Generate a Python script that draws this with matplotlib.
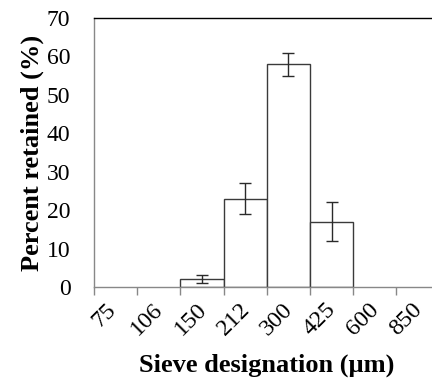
import matplotlib
matplotlib.use("Agg")
import matplotlib.pyplot as plt
import matplotlib.transforms as mtransforms
import numpy as np

sieves = ['75', '106', '150', '212', '300', '425', '600', '850']
retained = [0, 0, 2, 23, 58, 17, 0]      # percent retained in each interval (lower sieve -> next)
errors = [0, 0, 1, 4, 3, 5, 0]

plt.rcParams['font.family'] = ['Liberation Serif', 'DejaVu Serif']

fig = plt.figure(figsize=(4.32, 3.83), dpi=100)
ax = fig.add_axes([94/432, 96/383, 340/432, 269/383])

vals = np.array(retained, dtype=float)
errs = np.array(errors, dtype=float)
pos = np.arange(len(vals))
m = vals > 0
ax.bar(pos[m], vals[m], width=1.0, align='edge', color='white',
       edgecolor='#3a3a3a', linewidth=1.0, zorder=2)
ax.errorbar(pos[m] + 0.5, vals[m], yerr=errs[m], fmt='none', ecolor='#2a2a2a',
            elinewidth=1.0, capsize=4.5, capthick=1.0, zorder=3)

ax.set_xlim(0, 7.87)
ax.set_ylim(0, 70)
ax.set_yticks(np.arange(0, 71, 10))
ax.set_xticks(np.arange(len(sieves)))
ax.set_xticklabels([])
offset = mtransforms.ScaledTranslation(10/100, -12/100, fig.dpi_scale_trans)
trans = ax.get_xaxis_transform() + offset
for i, s in enumerate(sieves):
    ax.text(i, 0, s, transform=trans, rotation=45, ha='center', va='top',
            fontsize=17.5, clip_on=False)

ax.tick_params(axis='y', length=0, labelsize=17, pad=17)
ax.tick_params(axis='x', length=6, width=1, color='#888888')
ax.spines['bottom'].set_color('#888888')
ax.spines['left'].set_color('#888888')
ax.spines['top'].set_color('black')
ax.spines['right'].set_visible(False)
for s in ax.spines.values():
    s.set_linewidth(1.0)

ax.set_ylabel('Percent retained (%)', fontsize=19, fontweight='bold', labelpad=2)
fig.text(267 / 432, 1 - 365 / 383, 'Sieve designation (\u00b5m)',
         fontsize=19, fontweight='bold', ha='center', va='center')

fig.savefig('out.png', dpi=100)
